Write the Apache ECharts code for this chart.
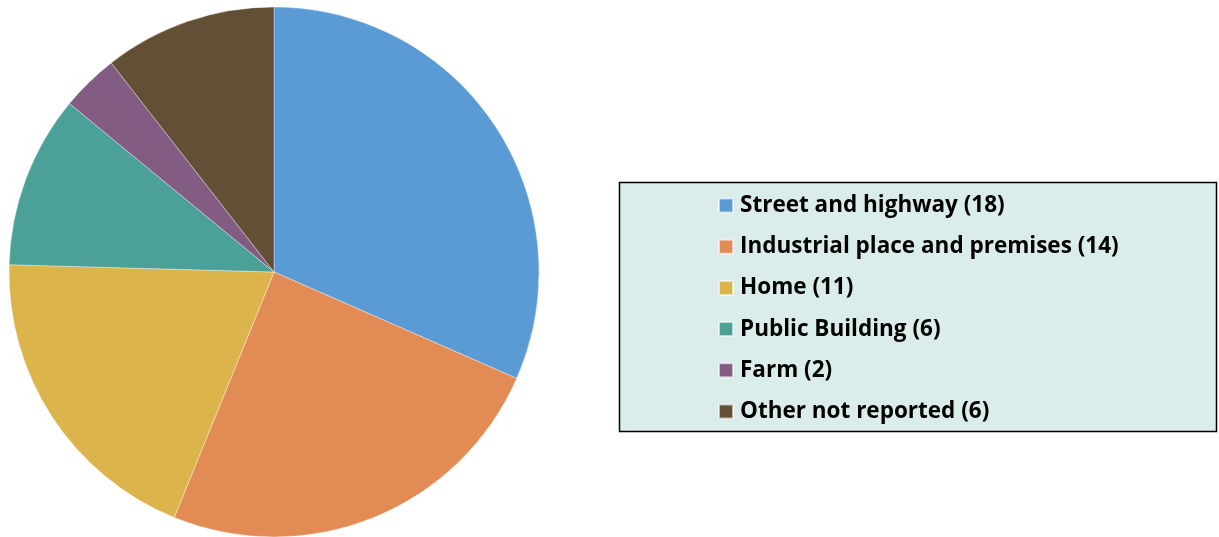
<!DOCTYPE html>
<html>
<head>
<meta charset="utf-8">
<script src="https://cdn.jsdelivr.net/npm/echarts@6/dist/echarts.min.js"></script>
<style>
html,body{margin:0;padding:0;background:#fff;}
#chart{width:1219px;height:537px;}
</style>
</head>
<body>
<div id="chart"></div>
<script>
const categories = ['Street and highway','Industrial place and premises','Home','Public Building','Farm','Other not reported'];
const values = [18, 14, 11, 6, 2, 6];
const colors = ['#5B9BD5','#E38B54','#DBB44B','#4BA197','#835C84','#634F35'];

const chart = echarts.init(document.getElementById('chart'));
const data = categories.map((c, i) => ({ name: c, value: values[i], itemStyle: { color: colors[i] } }));
const valueOf = {};
categories.forEach((c, i) => valueOf[c] = values[i]);

chart.setOption({
  animation: false,
  graphic: [{
    type: 'rect',
    z: -1,
    shape: { x: 619.5, y: 182.5, width: 597, height: 249 },
    style: { fill: '#DBEDEB', stroke: '#000', lineWidth: 1.5 }
  }],
  legend: {
    orient: 'vertical',
    left: 718,
    top: 193.5,
    padding: 0,
    itemWidth: 14,
    itemHeight: 14,
    itemGap: 17.2,
    icon: 'rect',
    selectedMode: false,
    formatter: name => name + ' (' + valueOf[name] + ')',
    textStyle: {
      fontFamily: 'Open Sans',
      fontWeight: 'bold',
      fontSize: 22.5,
      lineHeight: 24,
      color: '#000',
      padding: [0, 0, 0, 2]
    },
    data: categories
  },
  series: [{
    type: 'pie',
    center: [274, 272],
    radius: [0, 265],
    startAngle: 90,
    clockwise: true,
    label: { show: false },
    labelLine: { show: false },
    emphasis: { disabled: true },
    itemStyle: { borderColor: 'rgba(255,255,255,0.6)', borderWidth: 0.6 },
    data: data
  }]
});
</script>
</body>
</html>
